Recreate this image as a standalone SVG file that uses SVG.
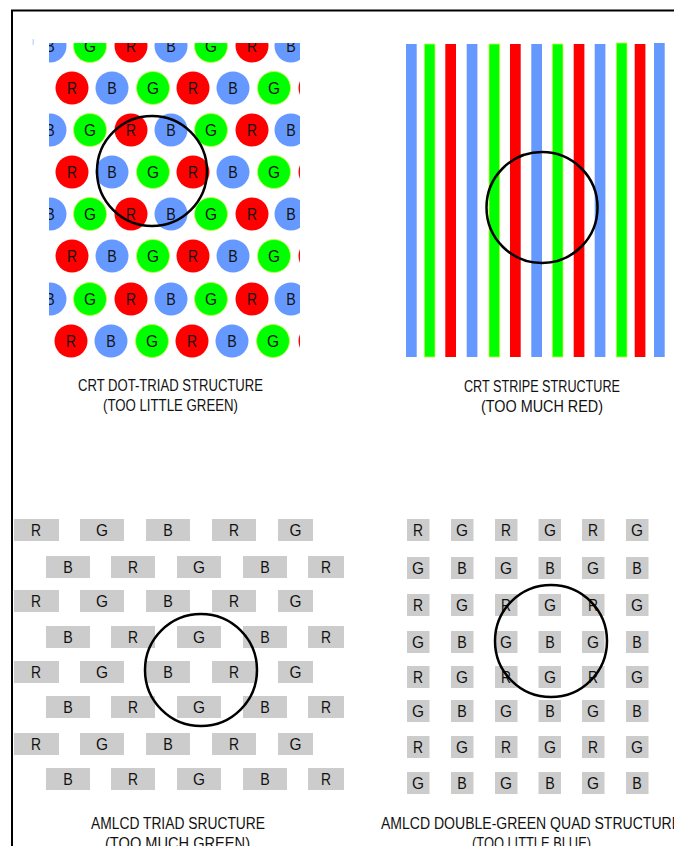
<svg xmlns="http://www.w3.org/2000/svg" width="674" height="846" viewBox="0 0 674 846">
<style>
.r{fill:#ff0000}
.g{fill:#00ff00;stroke:#c4ff3c;stroke-width:0.8}
.b{fill:#6699ff}
.cell{fill:#cccccc}
.t{font-family:"Liberation Sans",Arial,sans-serif;font-size:17px;text-anchor:middle;fill:#111}
.cap{font-family:"Liberation Sans",Arial,sans-serif;font-size:16px;fill:#111}
.ring{fill:none;stroke:#000;stroke-width:2.5}
</style>
<defs>
<clipPath id="clipDots"><rect x="49" y="43" width="251" height="317"/></clipPath>
</defs>
<rect width="674" height="846" fill="#fff"/>
<path d="M12,846 V10.5 H674" fill="none" stroke="#000" stroke-width="2"/>
<rect x="32.5" y="39" width="1.5" height="6" fill="#c8d8ff"/>

<g id="crt-dot-triad">
<g clip-path="url(#clipDots)">
<circle class="b" cx="50" cy="46" r="16.5"/><circle class="g" cx="90" cy="46" r="16.5"/><circle class="r" cx="131" cy="46" r="16.5"/><circle class="b" cx="171" cy="46" r="16.5"/><circle class="g" cx="211" cy="46" r="16.5"/><circle class="r" cx="252" cy="46" r="16.5"/><circle class="b" cx="291" cy="46" r="16.5"/>
<text class="t" x="50" y="52" textLength="9.5" lengthAdjust="spacingAndGlyphs">B</text><text class="t" x="90" y="52" textLength="12" lengthAdjust="spacingAndGlyphs">G</text><text class="t" x="131" y="52" textLength="10" lengthAdjust="spacingAndGlyphs">R</text><text class="t" x="171" y="52" textLength="9.5" lengthAdjust="spacingAndGlyphs">B</text><text class="t" x="211" y="52" textLength="12" lengthAdjust="spacingAndGlyphs">G</text><text class="t" x="252" y="52" textLength="10" lengthAdjust="spacingAndGlyphs">R</text><text class="t" x="291" y="52" textLength="9.5" lengthAdjust="spacingAndGlyphs">B</text>

<circle class="r" cx="72" cy="88" r="16.5"/><circle class="b" cx="112" cy="88" r="16.5"/><circle class="g" cx="153" cy="88" r="16.5"/><circle class="r" cx="193" cy="88" r="16.5"/><circle class="b" cx="233" cy="88" r="16.5"/><circle class="g" cx="274" cy="88" r="16.5"/><circle class="r" cx="315" cy="88" r="16.5"/>
<text class="t" x="72" y="94" textLength="10" lengthAdjust="spacingAndGlyphs">R</text><text class="t" x="112" y="94" textLength="9.5" lengthAdjust="spacingAndGlyphs">B</text><text class="t" x="153" y="94" textLength="12" lengthAdjust="spacingAndGlyphs">G</text><text class="t" x="193" y="94" textLength="10" lengthAdjust="spacingAndGlyphs">R</text><text class="t" x="233" y="94" textLength="9.5" lengthAdjust="spacingAndGlyphs">B</text><text class="t" x="274" y="94" textLength="12" lengthAdjust="spacingAndGlyphs">G</text>

<circle class="b" cx="50" cy="130" r="16.5"/><circle class="g" cx="90" cy="130" r="16.5"/><circle class="r" cx="131" cy="130" r="16.5"/><circle class="b" cx="171" cy="130" r="16.5"/><circle class="g" cx="211" cy="130" r="16.5"/><circle class="r" cx="252" cy="130" r="16.5"/><circle class="b" cx="291" cy="130" r="16.5"/>
<text class="t" x="50" y="136" textLength="9.5" lengthAdjust="spacingAndGlyphs">B</text><text class="t" x="90" y="136" textLength="12" lengthAdjust="spacingAndGlyphs">G</text><text class="t" x="131" y="136" textLength="10" lengthAdjust="spacingAndGlyphs">R</text><text class="t" x="171" y="136" textLength="9.5" lengthAdjust="spacingAndGlyphs">B</text><text class="t" x="211" y="136" textLength="12" lengthAdjust="spacingAndGlyphs">G</text><text class="t" x="252" y="136" textLength="10" lengthAdjust="spacingAndGlyphs">R</text><text class="t" x="291" y="136" textLength="9.5" lengthAdjust="spacingAndGlyphs">B</text>

<circle class="r" cx="72" cy="172" r="16.5"/><circle class="b" cx="112" cy="172" r="16.5"/><circle class="g" cx="153" cy="172" r="16.5"/><circle class="r" cx="193" cy="172" r="16.5"/><circle class="b" cx="233" cy="172" r="16.5"/><circle class="g" cx="274" cy="172" r="16.5"/><circle class="r" cx="315" cy="172" r="16.5"/>
<text class="t" x="72" y="178" textLength="10" lengthAdjust="spacingAndGlyphs">R</text><text class="t" x="112" y="178" textLength="9.5" lengthAdjust="spacingAndGlyphs">B</text><text class="t" x="153" y="178" textLength="12" lengthAdjust="spacingAndGlyphs">G</text><text class="t" x="193" y="178" textLength="10" lengthAdjust="spacingAndGlyphs">R</text><text class="t" x="233" y="178" textLength="9.5" lengthAdjust="spacingAndGlyphs">B</text><text class="t" x="274" y="178" textLength="12" lengthAdjust="spacingAndGlyphs">G</text>

<circle class="b" cx="50" cy="214" r="16.5"/><circle class="g" cx="90" cy="214" r="16.5"/><circle class="r" cx="131" cy="214" r="16.5"/><circle class="b" cx="171" cy="214" r="16.5"/><circle class="g" cx="211" cy="214" r="16.5"/><circle class="r" cx="252" cy="214" r="16.5"/><circle class="b" cx="291" cy="214" r="16.5"/>
<text class="t" x="50" y="220" textLength="9.5" lengthAdjust="spacingAndGlyphs">B</text><text class="t" x="90" y="220" textLength="12" lengthAdjust="spacingAndGlyphs">G</text><text class="t" x="131" y="220" textLength="10" lengthAdjust="spacingAndGlyphs">R</text><text class="t" x="171" y="220" textLength="9.5" lengthAdjust="spacingAndGlyphs">B</text><text class="t" x="211" y="220" textLength="12" lengthAdjust="spacingAndGlyphs">G</text><text class="t" x="252" y="220" textLength="10" lengthAdjust="spacingAndGlyphs">R</text><text class="t" x="291" y="220" textLength="9.5" lengthAdjust="spacingAndGlyphs">B</text>

<circle class="r" cx="72" cy="256" r="16.5"/><circle class="b" cx="112" cy="256" r="16.5"/><circle class="g" cx="153" cy="256" r="16.5"/><circle class="r" cx="193" cy="256" r="16.5"/><circle class="b" cx="233" cy="256" r="16.5"/><circle class="g" cx="274" cy="256" r="16.5"/><circle class="r" cx="315" cy="256" r="16.5"/>
<text class="t" x="72" y="262" textLength="10" lengthAdjust="spacingAndGlyphs">R</text><text class="t" x="112" y="262" textLength="9.5" lengthAdjust="spacingAndGlyphs">B</text><text class="t" x="153" y="262" textLength="12" lengthAdjust="spacingAndGlyphs">G</text><text class="t" x="193" y="262" textLength="10" lengthAdjust="spacingAndGlyphs">R</text><text class="t" x="233" y="262" textLength="9.5" lengthAdjust="spacingAndGlyphs">B</text><text class="t" x="274" y="262" textLength="12" lengthAdjust="spacingAndGlyphs">G</text>

<circle class="b" cx="50" cy="299" r="16.5"/><circle class="g" cx="90" cy="299" r="16.5"/><circle class="r" cx="131" cy="299" r="16.5"/><circle class="b" cx="171" cy="299" r="16.5"/><circle class="g" cx="211" cy="299" r="16.5"/><circle class="r" cx="252" cy="299" r="16.5"/><circle class="b" cx="291" cy="299" r="16.5"/>
<text class="t" x="50" y="305" textLength="9.5" lengthAdjust="spacingAndGlyphs">B</text><text class="t" x="90" y="305" textLength="12" lengthAdjust="spacingAndGlyphs">G</text><text class="t" x="131" y="305" textLength="10" lengthAdjust="spacingAndGlyphs">R</text><text class="t" x="171" y="305" textLength="9.5" lengthAdjust="spacingAndGlyphs">B</text><text class="t" x="211" y="305" textLength="12" lengthAdjust="spacingAndGlyphs">G</text><text class="t" x="252" y="305" textLength="10" lengthAdjust="spacingAndGlyphs">R</text><text class="t" x="291" y="305" textLength="9.5" lengthAdjust="spacingAndGlyphs">B</text>

<circle class="r" cx="71" cy="341" r="16.5"/><circle class="b" cx="111" cy="341" r="16.5"/><circle class="g" cx="152" cy="341" r="16.5"/><circle class="r" cx="192" cy="341" r="16.5"/><circle class="b" cx="232" cy="341" r="16.5"/><circle class="g" cx="273" cy="341" r="16.5"/><circle class="r" cx="315" cy="341" r="16.5"/>
<text class="t" x="71" y="347" textLength="10" lengthAdjust="spacingAndGlyphs">R</text><text class="t" x="111" y="347" textLength="9.5" lengthAdjust="spacingAndGlyphs">B</text><text class="t" x="152" y="347" textLength="12" lengthAdjust="spacingAndGlyphs">G</text><text class="t" x="192" y="347" textLength="10" lengthAdjust="spacingAndGlyphs">R</text><text class="t" x="232" y="347" textLength="9.5" lengthAdjust="spacingAndGlyphs">B</text><text class="t" x="273" y="347" textLength="12" lengthAdjust="spacingAndGlyphs">G</text>
</g>
<circle class="ring" cx="152" cy="171" r="55"/>
<text class="cap" x="78" y="391" textLength="185" lengthAdjust="spacingAndGlyphs">CRT DOT-TRIAD STRUCTURE</text>
<text class="cap" x="103" y="411" textLength="135" lengthAdjust="spacingAndGlyphs">(TOO LITTLE GREEN)</text>
</g>

<g id="crt-stripe">
<rect class="b" x="406" y="44" width="10.7" height="313"/>
<rect class="g" x="424.3" y="44" width="10.7" height="313" stroke="none"/>
<rect class="r" x="445.3" y="44" width="10.7" height="313"/>
<rect class="b" x="466.7" y="44" width="10.7" height="313"/>
<rect class="g" x="489" y="44" width="10.7" height="313" stroke="none"/>
<rect class="r" x="510" y="44" width="10.7" height="313"/>
<rect class="b" x="531.3" y="44" width="10.7" height="313"/>
<rect class="g" x="552.3" y="44" width="10.7" height="313" stroke="none"/>
<rect class="r" x="573.7" y="44" width="10.7" height="313"/>
<rect class="b" x="594.7" y="44" width="10.7" height="313"/>
<rect class="g" x="616.3" y="43" width="10.7" height="314" stroke="none"/>
<rect class="r" x="634.7" y="44" width="10.7" height="313"/>
<rect class="b" x="654" y="43" width="10.7" height="314"/>
<circle class="ring" cx="542" cy="207.5" r="55.5"/>
<text class="cap" x="464" y="392" textLength="156" lengthAdjust="spacingAndGlyphs">CRT STRIPE STRUCTURE</text>
<text class="cap" x="481" y="412" textLength="122" lengthAdjust="spacingAndGlyphs">(TOO MUCH RED)</text>
</g>

<g id="amlcd-triad">
<rect class="cell" x="14" y="519" width="45" height="22"/><rect class="cell" x="80" y="519" width="44" height="22"/><rect class="cell" x="146" y="519" width="44" height="22"/><rect class="cell" x="212" y="519" width="44" height="22"/><rect class="cell" x="278" y="519" width="35" height="22"/>
<text class="t" x="36" y="536" textLength="10" lengthAdjust="spacingAndGlyphs">R</text><text class="t" x="102" y="536" textLength="12" lengthAdjust="spacingAndGlyphs">G</text><text class="t" x="168" y="536" textLength="9.5" lengthAdjust="spacingAndGlyphs">B</text><text class="t" x="234" y="536" textLength="10" lengthAdjust="spacingAndGlyphs">R</text><text class="t" x="295.5" y="536" textLength="12" lengthAdjust="spacingAndGlyphs">G</text>
<rect class="cell" x="46" y="556" width="44" height="22"/><rect class="cell" x="111" y="556" width="44" height="22"/><rect class="cell" x="177" y="556" width="44" height="22"/><rect class="cell" x="243" y="556" width="44" height="22"/><rect class="cell" x="308" y="556" width="36" height="22"/>
<text class="t" x="68" y="573" textLength="9.5" lengthAdjust="spacingAndGlyphs">B</text><text class="t" x="133" y="573" textLength="10" lengthAdjust="spacingAndGlyphs">R</text><text class="t" x="199" y="573" textLength="12" lengthAdjust="spacingAndGlyphs">G</text><text class="t" x="265" y="573" textLength="9.5" lengthAdjust="spacingAndGlyphs">B</text><text class="t" x="326" y="573" textLength="10" lengthAdjust="spacingAndGlyphs">R</text>
<rect class="cell" x="14" y="590" width="45" height="22"/><rect class="cell" x="80" y="590" width="44" height="22"/><rect class="cell" x="146" y="590" width="44" height="22"/><rect class="cell" x="212" y="590" width="44" height="22"/><rect class="cell" x="278" y="590" width="35" height="22"/>
<text class="t" x="36" y="607" textLength="10" lengthAdjust="spacingAndGlyphs">R</text><text class="t" x="102" y="607" textLength="12" lengthAdjust="spacingAndGlyphs">G</text><text class="t" x="168" y="607" textLength="9.5" lengthAdjust="spacingAndGlyphs">B</text><text class="t" x="234" y="607" textLength="10" lengthAdjust="spacingAndGlyphs">R</text><text class="t" x="295.5" y="607" textLength="12" lengthAdjust="spacingAndGlyphs">G</text>
<rect class="cell" x="46" y="626" width="44" height="22"/><rect class="cell" x="111" y="626" width="44" height="22"/><rect class="cell" x="177" y="626" width="44" height="22"/><rect class="cell" x="243" y="626" width="44" height="22"/><rect class="cell" x="308" y="626" width="36" height="22"/>
<text class="t" x="68" y="643" textLength="9.5" lengthAdjust="spacingAndGlyphs">B</text><text class="t" x="133" y="643" textLength="10" lengthAdjust="spacingAndGlyphs">R</text><text class="t" x="199" y="643" textLength="12" lengthAdjust="spacingAndGlyphs">G</text><text class="t" x="265" y="643" textLength="9.5" lengthAdjust="spacingAndGlyphs">B</text><text class="t" x="326" y="643" textLength="10" lengthAdjust="spacingAndGlyphs">R</text>
<rect class="cell" x="14" y="661" width="45" height="22"/><rect class="cell" x="80" y="661" width="44" height="22"/><rect class="cell" x="146" y="661" width="44" height="22"/><rect class="cell" x="212" y="661" width="44" height="22"/><rect class="cell" x="278" y="661" width="35" height="22"/>
<text class="t" x="36" y="678" textLength="10" lengthAdjust="spacingAndGlyphs">R</text><text class="t" x="102" y="678" textLength="12" lengthAdjust="spacingAndGlyphs">G</text><text class="t" x="168" y="678" textLength="9.5" lengthAdjust="spacingAndGlyphs">B</text><text class="t" x="234" y="678" textLength="10" lengthAdjust="spacingAndGlyphs">R</text><text class="t" x="295.5" y="678" textLength="12" lengthAdjust="spacingAndGlyphs">G</text>
<rect class="cell" x="46" y="696" width="44" height="22"/><rect class="cell" x="111" y="696" width="44" height="22"/><rect class="cell" x="177" y="696" width="44" height="22"/><rect class="cell" x="243" y="696" width="44" height="22"/><rect class="cell" x="308" y="696" width="36" height="22"/>
<text class="t" x="68" y="713" textLength="9.5" lengthAdjust="spacingAndGlyphs">B</text><text class="t" x="133" y="713" textLength="10" lengthAdjust="spacingAndGlyphs">R</text><text class="t" x="199" y="713" textLength="12" lengthAdjust="spacingAndGlyphs">G</text><text class="t" x="265" y="713" textLength="9.5" lengthAdjust="spacingAndGlyphs">B</text><text class="t" x="326" y="713" textLength="10" lengthAdjust="spacingAndGlyphs">R</text>
<rect class="cell" x="14" y="733" width="45" height="22"/><rect class="cell" x="80" y="733" width="44" height="22"/><rect class="cell" x="146" y="733" width="44" height="22"/><rect class="cell" x="212" y="733" width="44" height="22"/><rect class="cell" x="278" y="733" width="35" height="22"/>
<text class="t" x="36" y="750" textLength="10" lengthAdjust="spacingAndGlyphs">R</text><text class="t" x="102" y="750" textLength="12" lengthAdjust="spacingAndGlyphs">G</text><text class="t" x="168" y="750" textLength="9.5" lengthAdjust="spacingAndGlyphs">B</text><text class="t" x="234" y="750" textLength="10" lengthAdjust="spacingAndGlyphs">R</text><text class="t" x="295.5" y="750" textLength="12" lengthAdjust="spacingAndGlyphs">G</text>
<rect class="cell" x="46" y="768" width="44" height="22"/><rect class="cell" x="111" y="768" width="44" height="22"/><rect class="cell" x="177" y="768" width="44" height="22"/><rect class="cell" x="243" y="768" width="44" height="22"/><rect class="cell" x="308" y="768" width="36" height="22"/>
<text class="t" x="68" y="785" textLength="9.5" lengthAdjust="spacingAndGlyphs">B</text><text class="t" x="133" y="785" textLength="10" lengthAdjust="spacingAndGlyphs">R</text><text class="t" x="199" y="785" textLength="12" lengthAdjust="spacingAndGlyphs">G</text><text class="t" x="265" y="785" textLength="9.5" lengthAdjust="spacingAndGlyphs">B</text><text class="t" x="326" y="785" textLength="10" lengthAdjust="spacingAndGlyphs">R</text>
<circle class="ring" cx="201" cy="670" r="56"/>
<text class="cap" x="91" y="829" textLength="174" lengthAdjust="spacingAndGlyphs">AMLCD TRIAD SRUCTURE</text>
<text class="cap" x="105" y="849" textLength="145" lengthAdjust="spacingAndGlyphs">(TOO MUCH GREEN)</text>
</g>

<g id="amlcd-quad">
<rect class="cell" x="407" y="519" width="22.5" height="22"/><rect class="cell" x="451" y="519" width="22.5" height="22"/><rect class="cell" x="495" y="519" width="22.5" height="22"/><rect class="cell" x="538.5" y="519" width="22.5" height="22"/><rect class="cell" x="582" y="519" width="22.5" height="22"/><rect class="cell" x="626" y="519" width="22.5" height="22"/>
<text class="t" x="418" y="536" textLength="10" lengthAdjust="spacingAndGlyphs">R</text><text class="t" x="462" y="536" textLength="12" lengthAdjust="spacingAndGlyphs">G</text><text class="t" x="506" y="536" textLength="10" lengthAdjust="spacingAndGlyphs">R</text><text class="t" x="550" y="536" textLength="12" lengthAdjust="spacingAndGlyphs">G</text><text class="t" x="593" y="536" textLength="10" lengthAdjust="spacingAndGlyphs">R</text><text class="t" x="637" y="536" textLength="12" lengthAdjust="spacingAndGlyphs">G</text>
<rect class="cell" x="407" y="557" width="22.5" height="22"/><rect class="cell" x="451" y="557" width="22.5" height="22"/><rect class="cell" x="495" y="557" width="22.5" height="22"/><rect class="cell" x="538.5" y="557" width="22.5" height="22"/><rect class="cell" x="582" y="557" width="22.5" height="22"/><rect class="cell" x="626" y="557" width="22.5" height="22"/>
<text class="t" x="418" y="574" textLength="12" lengthAdjust="spacingAndGlyphs">G</text><text class="t" x="462" y="574" textLength="9.5" lengthAdjust="spacingAndGlyphs">B</text><text class="t" x="506" y="574" textLength="12" lengthAdjust="spacingAndGlyphs">G</text><text class="t" x="550" y="574" textLength="9.5" lengthAdjust="spacingAndGlyphs">B</text><text class="t" x="593" y="574" textLength="12" lengthAdjust="spacingAndGlyphs">G</text><text class="t" x="637" y="574" textLength="9.5" lengthAdjust="spacingAndGlyphs">B</text>
<rect class="cell" x="407" y="594" width="22.5" height="22"/><rect class="cell" x="451" y="594" width="22.5" height="22"/><rect class="cell" x="495" y="594" width="22.5" height="22"/><rect class="cell" x="538.5" y="594" width="22.5" height="22"/><rect class="cell" x="582" y="594" width="22.5" height="22"/><rect class="cell" x="626" y="594" width="22.5" height="22"/>
<text class="t" x="418" y="611" textLength="10" lengthAdjust="spacingAndGlyphs">R</text><text class="t" x="462" y="611" textLength="12" lengthAdjust="spacingAndGlyphs">G</text><text class="t" x="506" y="611" textLength="10" lengthAdjust="spacingAndGlyphs">R</text><text class="t" x="550" y="611" textLength="12" lengthAdjust="spacingAndGlyphs">G</text><text class="t" x="593" y="611" textLength="10" lengthAdjust="spacingAndGlyphs">R</text><text class="t" x="637" y="611" textLength="12" lengthAdjust="spacingAndGlyphs">G</text>
<rect class="cell" x="407" y="631" width="22.5" height="22"/><rect class="cell" x="451" y="631" width="22.5" height="22"/><rect class="cell" x="495" y="631" width="22.5" height="22"/><rect class="cell" x="538.5" y="631" width="22.5" height="22"/><rect class="cell" x="582" y="631" width="22.5" height="22"/><rect class="cell" x="626" y="631" width="22.5" height="22"/>
<text class="t" x="418" y="648" textLength="12" lengthAdjust="spacingAndGlyphs">G</text><text class="t" x="462" y="648" textLength="9.5" lengthAdjust="spacingAndGlyphs">B</text><text class="t" x="506" y="648" textLength="12" lengthAdjust="spacingAndGlyphs">G</text><text class="t" x="550" y="648" textLength="9.5" lengthAdjust="spacingAndGlyphs">B</text><text class="t" x="593" y="648" textLength="12" lengthAdjust="spacingAndGlyphs">G</text><text class="t" x="637" y="648" textLength="9.5" lengthAdjust="spacingAndGlyphs">B</text>
<rect class="cell" x="407" y="666" width="22.5" height="22"/><rect class="cell" x="451" y="666" width="22.5" height="22"/><rect class="cell" x="495" y="666" width="22.5" height="22"/><rect class="cell" x="538.5" y="666" width="22.5" height="22"/><rect class="cell" x="582" y="666" width="22.5" height="22"/><rect class="cell" x="626" y="666" width="22.5" height="22"/>
<text class="t" x="418" y="683" textLength="10" lengthAdjust="spacingAndGlyphs">R</text><text class="t" x="462" y="683" textLength="12" lengthAdjust="spacingAndGlyphs">G</text><text class="t" x="506" y="683" textLength="10" lengthAdjust="spacingAndGlyphs">R</text><text class="t" x="550" y="683" textLength="12" lengthAdjust="spacingAndGlyphs">G</text><text class="t" x="593" y="683" textLength="10" lengthAdjust="spacingAndGlyphs">R</text><text class="t" x="637" y="683" textLength="12" lengthAdjust="spacingAndGlyphs">G</text>
<rect class="cell" x="407" y="700" width="22.5" height="22"/><rect class="cell" x="451" y="700" width="22.5" height="22"/><rect class="cell" x="495" y="700" width="22.5" height="22"/><rect class="cell" x="538.5" y="700" width="22.5" height="22"/><rect class="cell" x="582" y="700" width="22.5" height="22"/><rect class="cell" x="626" y="700" width="22.5" height="22"/>
<text class="t" x="418" y="717" textLength="12" lengthAdjust="spacingAndGlyphs">G</text><text class="t" x="462" y="717" textLength="9.5" lengthAdjust="spacingAndGlyphs">B</text><text class="t" x="506" y="717" textLength="12" lengthAdjust="spacingAndGlyphs">G</text><text class="t" x="550" y="717" textLength="9.5" lengthAdjust="spacingAndGlyphs">B</text><text class="t" x="593" y="717" textLength="12" lengthAdjust="spacingAndGlyphs">G</text><text class="t" x="637" y="717" textLength="9.5" lengthAdjust="spacingAndGlyphs">B</text>
<rect class="cell" x="407" y="736" width="22.5" height="22"/><rect class="cell" x="451" y="736" width="22.5" height="22"/><rect class="cell" x="495" y="736" width="22.5" height="22"/><rect class="cell" x="538.5" y="736" width="22.5" height="22"/><rect class="cell" x="582" y="736" width="22.5" height="22"/><rect class="cell" x="626" y="736" width="22.5" height="22"/>
<text class="t" x="418" y="753" textLength="10" lengthAdjust="spacingAndGlyphs">R</text><text class="t" x="462" y="753" textLength="12" lengthAdjust="spacingAndGlyphs">G</text><text class="t" x="506" y="753" textLength="10" lengthAdjust="spacingAndGlyphs">R</text><text class="t" x="550" y="753" textLength="12" lengthAdjust="spacingAndGlyphs">G</text><text class="t" x="593" y="753" textLength="10" lengthAdjust="spacingAndGlyphs">R</text><text class="t" x="637" y="753" textLength="12" lengthAdjust="spacingAndGlyphs">G</text>
<rect class="cell" x="407" y="772" width="22.5" height="22"/><rect class="cell" x="451" y="772" width="22.5" height="22"/><rect class="cell" x="495" y="772" width="22.5" height="22"/><rect class="cell" x="538.5" y="772" width="22.5" height="22"/><rect class="cell" x="582" y="772" width="22.5" height="22"/><rect class="cell" x="626" y="772" width="22.5" height="22"/>
<text class="t" x="418" y="789" textLength="12" lengthAdjust="spacingAndGlyphs">G</text><text class="t" x="462" y="789" textLength="9.5" lengthAdjust="spacingAndGlyphs">B</text><text class="t" x="506" y="789" textLength="12" lengthAdjust="spacingAndGlyphs">G</text><text class="t" x="550" y="789" textLength="9.5" lengthAdjust="spacingAndGlyphs">B</text><text class="t" x="593" y="789" textLength="12" lengthAdjust="spacingAndGlyphs">G</text><text class="t" x="637" y="789" textLength="9.5" lengthAdjust="spacingAndGlyphs">B</text>
<circle class="ring" cx="551" cy="641" r="56"/>
<text class="cap" x="381" y="829" textLength="300" lengthAdjust="spacingAndGlyphs">AMLCD DOUBLE-GREEN QUAD STRUCTURE</text>
<text class="cap" x="472" y="849" textLength="119" lengthAdjust="spacingAndGlyphs">(TOO LITTLE BLUE)</text>
</g>
</svg>
